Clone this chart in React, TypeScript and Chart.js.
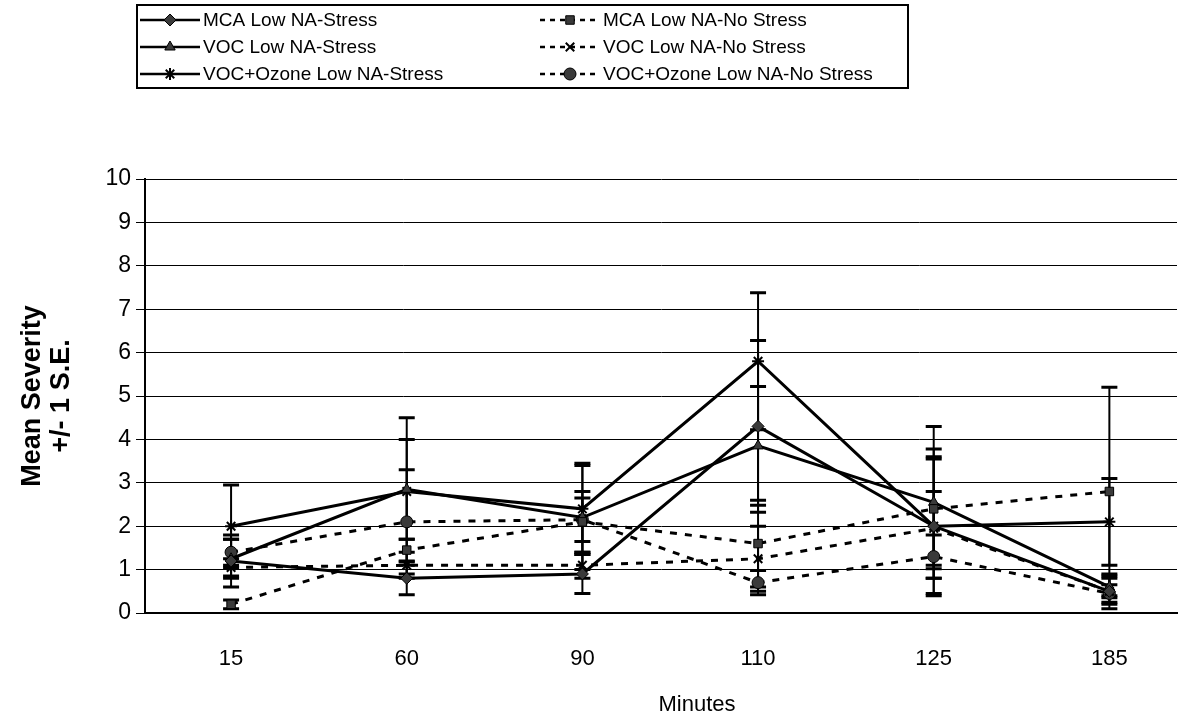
import React, { useEffect, useRef } from 'react';
import { Chart, registerables } from 'chart.js';
import { drawPoint } from 'chart.js/helpers';

Chart.register(...registerables);

// ---- data ----
const minuteLabels = ['15', '60', '90', '110', '125', '185'];
const xAxisTitle = 'Minutes';
const yAxisTitle = ['Mean Severity', '+/- 1 S.E.'];

const mcaStress = [1.2, 0.8, 0.9, 4.3, 2.0, 0.5];
const mcaStressSE = [0.6, 0.38, 0.45, 1.98, 1.6, 0.4];

const mcaNoStress = [0.2, 1.45, 2.1, 1.6, 2.4, 2.8];
const mcaNoStressSE = [0.1, 0.25, 0.7, 1.0, 1.38, 2.4];

const vocStress = [1.25, 2.85, 2.2, 3.85, 2.55, 0.6];
const vocStressSE = [0.45, 1.15, 1.2, 1.37, 1.75, 0.25];

const vocNoStress = [1.05, 1.1, 1.1, 1.25, 1.95, 0.5];
const vocNoStressSE = [0.2, 0.3, 0.3, 0.75, 0.85, 0.3];

const vocOzoneStress = [2.0, 2.8, 2.4, 5.8, 2.0, 2.1];
const vocOzoneStressSE = [0.95, 1.7, 1.05, 1.58, 1.55, 1.0];

const vocOzoneNoStress = [1.4, 2.1, 2.15, 0.7, 1.3, 0.45];
const vocOzoneNoStressSE = [0.3, 1.2, 0.5, 0.28, 0.5, 0.2];

const FONT = 'Arial, "Liberation Sans", sans-serif';

const toPoints = (arr: number[]) => arr.map((v, i) => ({ x: i, y: v }));

const errorBarPlugin = {
  id: 'errorBars',
  beforeDatasetsDraw(chart: any) {
    const { ctx, chartArea, scales } = chart;
    const xs = scales.x;
    const ys = scales.y;
    ctx.save();
    ctx.beginPath();
    ctx.rect(chartArea.left, chartArea.top - 30, chartArea.right - chartArea.left, chartArea.bottom - chartArea.top + 30);
    ctx.clip();
    ctx.strokeStyle = '#000';
    chart.data.datasets.forEach((ds: any) => {
      const se: number[] = ds.errors;
      ds.data.forEach((p: any, i: number) => {
        const px = xs.getPixelForValue(p.x);
        const hi = p.y + se[i];
        const lo = p.y - se[i];
        const yHi = ys.getPixelForValue(hi);
        const yLo = ys.getPixelForValue(Math.max(lo, 0));
        ctx.lineWidth = 2;
        ctx.beginPath();
        ctx.moveTo(px, yHi);
        ctx.lineTo(px, yLo);
        ctx.stroke();
        ctx.lineWidth = 3;
        ctx.beginPath();
        ctx.moveTo(px - 8, yHi);
        ctx.lineTo(px + 8, yHi);
        if (lo >= 0) {
          ctx.moveTo(px - 8, yLo);
          ctx.lineTo(px + 8, yLo);
        }
        ctx.stroke();
      });
    });
    ctx.restore();
  },
};

const boxLegendPlugin = {
  id: 'boxLegend',
  afterDraw(chart: any) {
    const { ctx } = chart;
    ctx.save();
    ctx.strokeStyle = '#000';
    ctx.lineWidth = 2;
    ctx.strokeRect(137, 5, 771, 83);
    const rows = [20, 47, 74];
    chart.data.datasets.forEach((ds: any, i: number) => {
      const col = i % 2;
      const row = Math.floor(i / 2);
      const y = rows[row];
      const x0 = col === 0 ? 140 : 540;
      const x1 = col === 0 ? 200 : 600;
      ctx.strokeStyle = '#000';
      ctx.lineWidth = 2.5;
      ctx.setLineDash(col === 0 ? [] : [5, 5]);
      ctx.beginPath();
      ctx.moveTo(x0, y);
      ctx.lineTo(x1, y);
      ctx.stroke();
      ctx.setLineDash([]);
      ctx.fillStyle = ds.pointBackgroundColor;
      ctx.strokeStyle = '#000';
      ctx.lineWidth = ds.pointBorderWidth;
      drawPoint(ctx, { pointStyle: ds.pointStyle, rotation: 0, radius: 6, borderWidth: ds.pointBorderWidth }, (x0 + x1) / 2, y);
      ctx.fillStyle = '#000';
      ctx.font = `19px ${FONT}`;
      ctx.textBaseline = 'middle';
      ctx.textAlign = 'left';
      ctx.fillText(ds.label, x1 + 3, y + 1);
    });
    // x axis title
    ctx.font = `22px ${FONT}`;
    ctx.textAlign = 'center';
    ctx.textBaseline = 'middle';
    ctx.fillStyle = '#000';
    ctx.fillText(xAxisTitle, 697, 705);
    ctx.restore();
  },
};

const makeDs = (label: string, data: number[], se: number[], dashed: boolean, pointStyle: string) => ({
  label,
  data: toPoints(data),
  errors: se,
  borderColor: '#000',
  borderWidth: 3,
  borderDash: dashed ? [7, 8] : [],
  pointStyle,
  pointRadius: 6,
  pointBackgroundColor: '#3a3a3a',
  pointBorderColor: '#000',
  pointBorderWidth: pointStyle === 'star' || pointStyle === 'crossRot' ? 2 : 1,
  fill: false,
  tension: 0,
});

export default function App() {
  const canvasRef = useRef<HTMLCanvasElement | null>(null);

  useEffect(() => {
    const canvas = canvasRef.current;
    if (!canvas) return;
    const chart = new Chart(canvas, {
      type: 'line',
      data: {
        datasets: [
          makeDs('MCA Low NA-Stress', mcaStress, mcaStressSE, false, 'rectRot'),
          makeDs('MCA Low NA-No Stress', mcaNoStress, mcaNoStressSE, true, 'rect'),
          makeDs('VOC Low NA-Stress', vocStress, vocStressSE, false, 'triangle'),
          makeDs('VOC Low NA-No Stress', vocNoStress, vocNoStressSE, true, 'crossRot'),
          makeDs('VOC+Ozone Low NA-Stress', vocOzoneStress, vocOzoneStressSE, false, 'star'),
          makeDs('VOC+Ozone Low NA-No Stress', vocOzoneNoStress, vocOzoneNoStressSE, true, 'circle'),
        ] as any,
      },
      options: {
        responsive: false,
        animation: false,
        devicePixelRatio: 1,
        layout: { padding: { top: 179, right: 6, bottom: 0, left: 0 } },
        plugins: {
          legend: { display: false },
          tooltip: { enabled: false },
          title: { display: false },
        },
        scales: {
          x: {
            type: 'linear',
            min: -0.49,
            max: 5.385,
            afterBuildTicks: (scale: any) => {
              scale.ticks = minuteLabels.map((_, i) => ({ value: i }));
            },
            afterFit: (scale: any) => {
              scale.height = 102;
            },
            ticks: {
              callback: (v: any) => minuteLabels[v] ?? '',
              color: '#000',
              font: { size: 22, family: FONT },
              padding: 33,
              maxRotation: 0,
              autoSkip: false,
            },
            grid: { display: false, drawTicks: false },
            border: { display: true, color: '#000', width: 2 },
            title: { display: false },
          },
          y: {
            min: 0,
            max: 10,
            afterFit: (scale: any) => {
              scale.width = 145;
            },
            ticks: {
              stepSize: 1,
              color: '#000',
              font: { size: 23, family: FONT },
              padding: 5,
            },
            grid: { color: '#000', lineWidth: 1, tickLength: 9, drawTicks: true },
            border: { display: true, color: '#000', width: 2 },
            title: {
              display: true,
              text: yAxisTitle,
              color: '#000',
              font: { size: 27, weight: 'bold', family: FONT, lineHeight: 1.07 },
              padding: { top: 18, bottom: 0 },
            },
          },
        },
      } as any,
      plugins: [errorBarPlugin, boxLegendPlugin],
    });
    return () => chart.destroy();
  }, []);

  return (
    <div style={{ position: 'absolute', left: 0, top: 0, width: 1185, height: 715, background: '#fff' }}>
      <canvas ref={canvasRef} width={1185} height={715} style={{ display: 'block' }} />
    </div>
  );
}
